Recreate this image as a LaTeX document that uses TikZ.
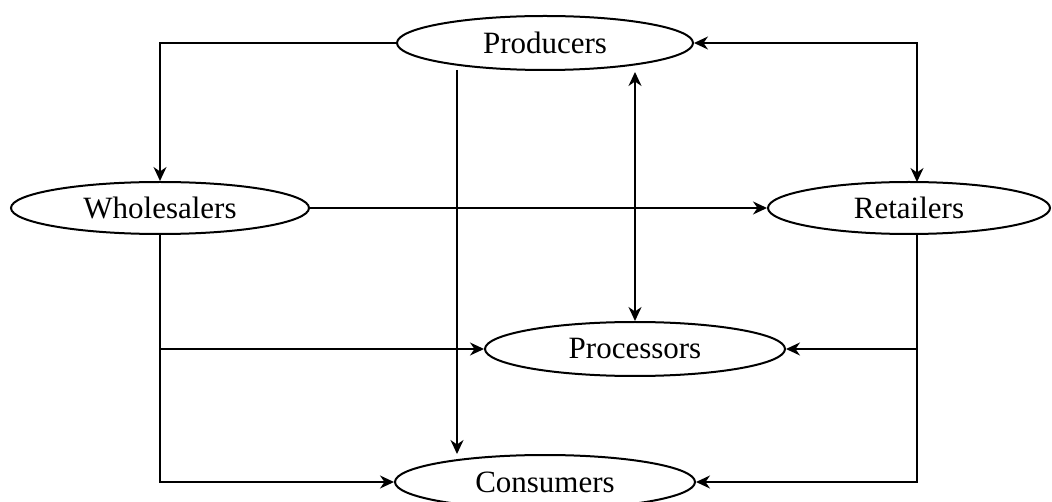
\documentclass[tikz,border=0pt]{standalone}
\usepackage{fontspec}
\setmainfont{Liberation Serif}
\usetikzlibrary{shapes.geometric,arrows.meta}
\begin{document}
\begin{tikzpicture}[x=1pt,y=-1pt,
  ent/.style={draw,line width=2pt,ellipse,inner sep=0pt,font=\fontsize{31}{36}\selectfont},
  conn/.style={line width=1.9pt,-{Stealth[length=14pt,width=13pt,inset=4.5pt]}},
  dconn/.style={line width=1.9pt,{Stealth[length=14pt,width=13pt,inset=4.5pt]}-{Stealth[length=14pt,width=13pt,inset=4.5pt]}}]
\useasboundingbox (0,0) rectangle (1052,502);
\begin{scope}
\clip (0,0) rectangle (1052,502);
\node[ent,minimum width=296pt,minimum height=54pt] (prod) at (545,43) {Producers};
\node[ent,minimum width=298pt,minimum height=52pt] (whole) at (160,208) {Wholesalers};
\node[ent,minimum width=282pt,minimum height=52pt] (ret) at (909,208) {Retailers};
\node[ent,minimum width=300pt,minimum height=54pt] (proc) at (635,349) {Processors};
\node[ent,minimum width=300pt,minimum height=54pt] (cons) at (545,482) {Consumers};
\end{scope}
\coordinate (rtop) at (917,182);
\coordinate (rbot) at (917,234);
\coordinate (pa) at (457,70);
\coordinate (ca) at (457,454);
\coordinate (pb) at (635,72);
% Producers -> Wholesalers
\draw[conn] (prod.west) -| (whole.north);
% Producers <-> Retailers
\draw[dconn] (prod.east) -| (rtop);
% Producers -> Consumers
\draw[conn] (pa) -- (ca);
% Producers <-> Processors
\draw[dconn] (pb) -- (proc.north);
% Wholesalers -> Retailers
\draw[conn] (whole.east) -- (ret.west);
% Wholesalers -> Consumers, Processors
\draw[conn] (whole.south) |- (cons.west);
\draw[conn] (whole.south |- proc.west) -- (proc.west);
% Retailers -> Consumers, Processors
\draw[conn] (rbot) |- (cons.east);
\draw[conn] (rbot |- proc.east) -- (proc.east);
\end{tikzpicture}
\end{document}
